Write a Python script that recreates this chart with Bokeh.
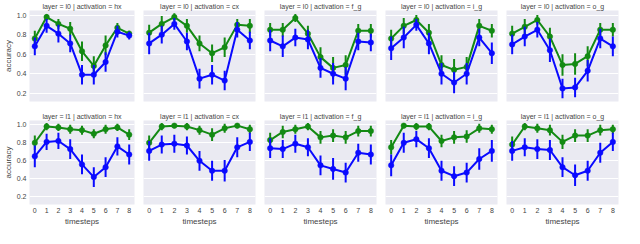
from bokeh.plotting import figure
from bokeh.layouts import column, row
from bokeh.models import ColumnDataSource, FixedTicker, Range1d, PrintfTickFormatter
from bokeh.embed import file_html
from bokeh.resources import INLINE

timesteps = [0, 1, 2, 3, 4, 5, 6, 7, 8]
layers = ["l0", "l1"]
activations = ["hx", "cx", "f_g", "i_g", "o_g"]
y_ticks = [0.2, 0.4, 0.6, 0.8, 1.0]

# layer l0
l0_hx_green = [0.76, 0.98, 0.91, 0.86, 0.63, 0.48, 0.69, 0.87, 0.81]
l0_hx_green_err = [0.08, 0.03, 0.05, 0.07, 0.10, 0.10, 0.10, 0.05, 0.03]
l0_hx_blue = [0.68, 0.89, 0.81, 0.71, 0.39, 0.39, 0.52, 0.83, 0.79]
l0_hx_blue_err = [0.09, 0.07, 0.09, 0.09, 0.10, 0.10, 0.10, 0.06, 0.04]

l0_cx_green = [0.82, 0.91, 0.98, 0.89, 0.71, 0.61, 0.67, 0.90, 0.89]
l0_cx_green_err = [0.08, 0.08, 0.04, 0.07, 0.08, 0.09, 0.10, 0.06, 0.07]
l0_cx_blue = [0.71, 0.80, 0.91, 0.73, 0.35, 0.39, 0.33, 0.85, 0.74]
l0_cx_blue_err = [0.11, 0.09, 0.06, 0.09, 0.10, 0.10, 0.10, 0.08, 0.09]

l0_f_g_green = [0.85, 0.85, 0.97, 0.81, 0.57, 0.46, 0.49, 0.84, 0.84]
l0_f_g_green_err = [0.07, 0.07, 0.04, 0.08, 0.10, 0.11, 0.10, 0.07, 0.07]
l0_f_g_blue = [0.74, 0.68, 0.77, 0.75, 0.46, 0.40, 0.35, 0.73, 0.72]
l0_f_g_blue_err = [0.11, 0.11, 0.09, 0.10, 0.10, 0.11, 0.12, 0.09, 0.09]

l0_i_g_green = [0.76, 0.89, 0.95, 0.82, 0.49, 0.44, 0.47, 0.89, 0.84]
l0_i_g_green_err = [0.09, 0.08, 0.05, 0.09, 0.10, 0.11, 0.10, 0.07, 0.07]
l0_i_g_blue = [0.66, 0.77, 0.90, 0.71, 0.40, 0.31, 0.40, 0.77, 0.61]
l0_i_g_blue_err = [0.12, 0.11, 0.06, 0.11, 0.11, 0.11, 0.11, 0.09, 0.11]

l0_o_g_green = [0.81, 0.88, 0.95, 0.78, 0.49, 0.50, 0.58, 0.85, 0.85]
l0_o_g_green_err = [0.08, 0.08, 0.05, 0.09, 0.11, 0.11, 0.10, 0.07, 0.07]
l0_o_g_blue = [0.70, 0.78, 0.85, 0.64, 0.25, 0.26, 0.43, 0.76, 0.68]
l0_o_g_blue_err = [0.10, 0.10, 0.08, 0.12, 0.10, 0.10, 0.11, 0.10, 0.10]

# layer l1
l1_hx_green = [0.80, 0.98, 0.97, 0.95, 0.94, 0.90, 0.95, 0.97, 0.89]
l1_hx_green_err = [0.08, 0.04, 0.04, 0.05, 0.05, 0.05, 0.05, 0.04, 0.06]
l1_hx_blue = [0.65, 0.81, 0.82, 0.73, 0.56, 0.42, 0.53, 0.76, 0.67]
l1_hx_blue_err = [0.12, 0.09, 0.09, 0.11, 0.11, 0.11, 0.11, 0.10, 0.11]

l1_cx_green = [0.80, 0.98, 0.99, 0.98, 0.94, 0.89, 0.96, 0.99, 0.95]
l1_cx_green_err = [0.08, 0.04, 0.03, 0.04, 0.05, 0.07, 0.05, 0.03, 0.05]
l1_cx_blue = [0.71, 0.78, 0.79, 0.77, 0.60, 0.49, 0.49, 0.75, 0.81]
l1_cx_blue_err = [0.11, 0.10, 0.10, 0.10, 0.11, 0.11, 0.12, 0.11, 0.10]

l1_f_g_green = [0.83, 0.92, 0.95, 0.98, 0.86, 0.88, 0.86, 0.93, 0.93]
l1_f_g_green_err = [0.08, 0.07, 0.05, 0.04, 0.07, 0.07, 0.07, 0.06, 0.06]
l1_f_g_blue = [0.74, 0.73, 0.79, 0.75, 0.55, 0.51, 0.47, 0.69, 0.67]
l1_f_g_blue_err = [0.11, 0.10, 0.10, 0.10, 0.11, 0.12, 0.11, 0.10, 0.11]

l1_i_g_green = [0.75, 0.99, 0.98, 0.98, 0.82, 0.86, 0.87, 0.96, 0.95]
l1_i_g_green_err = [0.08, 0.03, 0.04, 0.04, 0.07, 0.07, 0.07, 0.05, 0.05]
l1_i_g_blue = [0.55, 0.80, 0.84, 0.74, 0.49, 0.43, 0.47, 0.62, 0.71]
l1_i_g_blue_err = [0.12, 0.11, 0.09, 0.11, 0.11, 0.11, 0.11, 0.12, 0.12]

l1_o_g_green = [0.78, 0.98, 0.96, 0.94, 0.81, 0.88, 0.88, 0.94, 0.95]
l1_o_g_green_err = [0.09, 0.04, 0.05, 0.06, 0.08, 0.07, 0.07, 0.06, 0.05]
l1_o_g_blue = [0.71, 0.75, 0.73, 0.72, 0.53, 0.44, 0.49, 0.69, 0.81]
l1_o_g_blue_err = [0.11, 0.10, 0.11, 0.11, 0.11, 0.12, 0.11, 0.11, 0.10]

panels = {
    ("l0", "hx"): (l0_hx_green, l0_hx_green_err, l0_hx_blue, l0_hx_blue_err),
    ("l0", "cx"): (l0_cx_green, l0_cx_green_err, l0_cx_blue, l0_cx_blue_err),
    ("l0", "f_g"): (l0_f_g_green, l0_f_g_green_err, l0_f_g_blue, l0_f_g_blue_err),
    ("l0", "i_g"): (l0_i_g_green, l0_i_g_green_err, l0_i_g_blue, l0_i_g_blue_err),
    ("l0", "o_g"): (l0_o_g_green, l0_o_g_green_err, l0_o_g_blue, l0_o_g_blue_err),
    ("l1", "hx"): (l1_hx_green, l1_hx_green_err, l1_hx_blue, l1_hx_blue_err),
    ("l1", "cx"): (l1_cx_green, l1_cx_green_err, l1_cx_blue, l1_cx_blue_err),
    ("l1", "f_g"): (l1_f_g_green, l1_f_g_green_err, l1_f_g_blue, l1_f_g_blue_err),
    ("l1", "i_g"): (l1_i_g_green, l1_i_g_green_err, l1_i_g_blue, l1_i_g_blue_err),
    ("l1", "o_g"): (l1_o_g_green, l1_o_g_green_err, l1_o_g_blue, l1_o_g_blue_err),
}

GREEN = "#138a13"
BLUE = "#0a0aff"
BG = "#EAEAF2"
TXT = "#444444"
FONT = "Liberation Sans"

PLOT_W = 112
PLOT_H = 93
LEFT_FIRST = 22
LEFT_OTHER = 5
RIGHT = 4
TOP = 8
BOTTOM_TOP_ROW = 9
BOTTOM_BOTTOM_ROW = 17


def make_panel(li, ai):
    layer = layers[li]
    act = activations[ai]
    g, ge, b, be = panels[(layer, act)]
    first_col = ai == 0
    bottom_row = li == 1
    left = LEFT_FIRST if first_col else LEFT_OTHER
    bottom = BOTTOM_BOTTOM_ROW if bottom_row else BOTTOM_TOP_ROW
    p = figure(
        width=left + PLOT_W + RIGHT,
        height=TOP + PLOT_H + bottom,
        x_range=Range1d(-0.45, 8.45),
        y_range=Range1d(0.116, 1.047),
        output_backend="svg",
        toolbar_location=None,
        min_border_left=left,
        min_border_right=RIGHT,
        min_border_top=TOP,
        min_border_bottom=bottom,
        title=f"layer = {layer} | activation = {act}",
    )
    p.background_fill_color = BG
    p.border_fill_color = "white"
    p.outline_line_color = None
    p.title.text_font = FONT
    p.title.text_font_size = "7px"
    p.title.text_font_style = "normal"
    p.title.text_color = TXT
    p.title.align = "center"
    p.title.standoff = 1
    p.title.offset = 0

    p.xgrid.grid_line_color = None
    p.ygrid.grid_line_color = "white"
    p.ygrid.grid_line_width = 1
    p.yaxis.ticker = FixedTicker(ticks=y_ticks)
    p.yaxis.formatter = PrintfTickFormatter(format="%.1f")
    p.xaxis.ticker = FixedTicker(ticks=timesteps)

    for ax in (p.xaxis[0], p.yaxis[0]):
        ax.axis_line_color = None
        ax.major_tick_line_color = None
        ax.minor_tick_line_color = None
        ax.major_tick_out = 0
        ax.major_tick_in = 0
        ax.minor_tick_out = 0
        ax.minor_tick_in = 0
        ax.major_label_text_font = FONT
        ax.major_label_text_font_size = "7px"
        ax.major_label_text_color = TXT
        ax.major_label_standoff = 3
        ax.axis_label_text_font = FONT
        ax.axis_label_text_font_size = "8px"
        ax.axis_label_text_font_style = "normal"
        ax.axis_label_text_color = TXT
        ax.axis_label_standoff = 1

    if first_col:
        p.yaxis.axis_label = "accuracy"
    else:
        p.yaxis.visible = False
    if bottom_row:
        p.xaxis.axis_label = "timesteps"
    else:
        p.xaxis.visible = False

    for vals, errs, col in ((g, ge, GREEN), (b, be, BLUE)):
        src = ColumnDataSource(dict(
            x=timesteps,
            y=vals,
            lo=[v - e for v, e in zip(vals, errs)],
            hi=[v + e for v, e in zip(vals, errs)],
        ))
        p.line("x", "y", source=src, line_color=col, line_width=2)
        p.segment(x0="x", y0="lo", x1="x", y1="hi", source=src,
                  line_color=col, line_width=2)
        p.scatter("x", "y", source=src, size=5.5, fill_color=col,
                  line_color=col, line_width=0.5)
    return p


rows = []
for li in range(2):
    rows.append(row([make_panel(li, ai) for ai in range(5)], spacing=0))
layout = column(rows, spacing=0)

open("out.html", "w").write(file_html(layout, INLINE))
